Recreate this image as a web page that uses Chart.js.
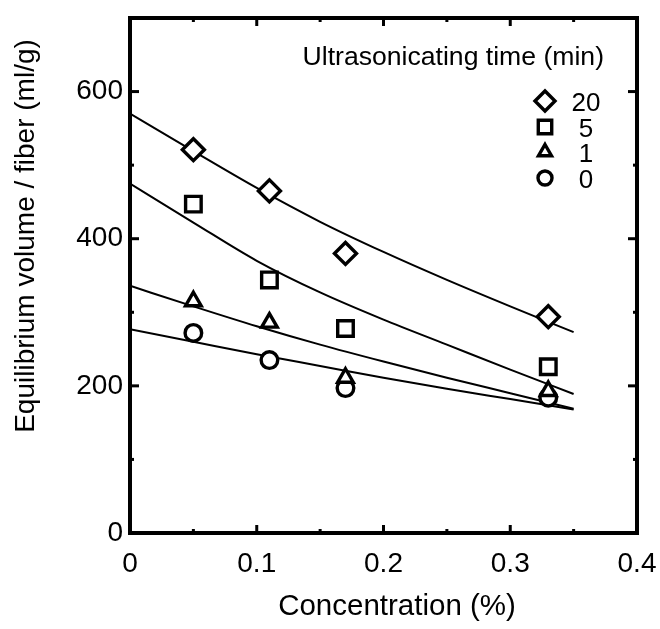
<!DOCTYPE html>
<html><head><meta charset="utf-8">
<script src="https://cdn.jsdelivr.net/npm/chart.js@4/dist/chart.umd.min.js"></script>
<style>html,body{margin:0;padding:0;background:#fff;} canvas{display:block;}</style>
</head><body>
<canvas id="c" width="660" height="629"></canvas>
<script>
const concentration = [0.05, 0.11, 0.17, 0.33];
const vol20min = [521, 465, 380, 294];
const vol5min = [447, 344, 278, 226];
const vol1min = [315, 286, 211, 193];
const vol0min = [272, 235, 197, 184];
const fitConcentration = [0, 0.05, 0.1, 0.15, 0.2, 0.25, 0.3, 0.35];
const fit20min = [570, 519, 469, 423, 382, 344, 308, 273];
const fit5min = [475, 422, 370, 327, 290, 256, 222, 189];
const fit1min = [336, 308, 281, 256, 233, 211, 190, 169];
const fit0min = [277, 260, 243, 227, 211, 196, 182, 168];
const seriesLabels = ['20', '5', '1', '0'];
const xTicks = [0, 0.1, 0.2, 0.3, 0.4];
const xTickLabels = ['0', '0.1', '0.2', '0.3', '0.4'];
const xMinorTicks = [0.05, 0.15, 0.25, 0.35];
const yTicks = [0, 200, 400, 600];
const yTickLabels = ['0', '200', '400', '600'];
const yMinorTicks = [100, 300, 500];
const xTitle = 'Concentration (%)';
const yTitle = 'Equilibrium volume / fiber (ml/g)';
const legendTitle = 'Ultrasonicating time (min)';

const FONT = '"Liberation Sans", Arial, Helvetica, sans-serif';
const markerStyles = ['rectRot', 'rect', 'triangle', 'circle'];
const markerRadii = [11, 11, 9, 8.3];
const legendRadii = [10, 9.5, 7.5, 7];

const measured = [vol20min, vol5min, vol1min, vol0min];
const fits = [fit20min, fit5min, fit1min, fit0min];

const datasets = [];
fits.forEach((f, i) => {
  datasets.push({
    label: 'fit ' + seriesLabels[i],
    data: fitConcentration.map((x, j) => ({x: x, y: f[j]})),
    showLine: true,
    borderColor: '#000',
    borderWidth: 2,
    pointRadius: 0,
    fill: false,
    cubicInterpolationMode: 'monotone',
    order: 1
  });
});
measured.forEach((m, i) => {
  datasets.push({
    label: seriesLabels[i],
    data: concentration.map((x, j) => ({x: x, y: m[j]})),
    showLine: false,
    pointStyle: markerStyles[i],
    pointRadius: markerRadii[i],
    pointBorderWidth: 3.4,
    pointBackgroundColor: '#fff',
    pointBorderColor: '#000',
    order: 0
  });
});

function drawMarker(ctx, style, r, x, y) {
  if (Chart.helpers && Chart.helpers.drawPoint) {
    Chart.helpers.drawPoint(ctx, {pointStyle: style, radius: r, rotation: 0, borderWidth: 3.4}, x, y);
    return;
  }
  ctx.beginPath();
  if (style === 'circle') ctx.arc(x, y, r, 0, Math.PI * 2);
  else if (style === 'rect') { const s = r * Math.SQRT1_2; ctx.rect(x - s, y - s, 2 * s, 2 * s); }
  else if (style === 'rectRot') { ctx.moveTo(x - r, y); ctx.lineTo(x, y - r); ctx.lineTo(x + r, y); ctx.lineTo(x, y + r); ctx.closePath(); }
  else { ctx.moveTo(x, y - r); ctx.lineTo(x + 0.866 * r, y + 0.5 * r); ctx.lineTo(x - 0.866 * r, y + 0.5 * r); ctx.closePath(); }
  ctx.fill(); ctx.stroke();
}

const decor = {
  id: 'decor',
  afterDatasetsDraw(chart) {
    const ctx = chart.ctx;
    const a = chart.chartArea;
    const xs = chart.scales.x, ys = chart.scales.y;
    ctx.save();
    ctx.strokeStyle = '#000';
    ctx.lineWidth = 3;
    ctx.lineCap = 'butt';
    const tick = (x1, y1, x2, y2) => { ctx.beginPath(); ctx.moveTo(x1, y1); ctx.lineTo(x2, y2); ctx.stroke(); };
    xTicks.forEach(v => { const p = xs.getPixelForValue(v); tick(p, a.bottom, p, a.bottom - 8); tick(p, a.top, p, a.top + 8); });
    xMinorTicks.forEach(v => { const p = xs.getPixelForValue(v); tick(p, a.bottom, p, a.bottom - 4); tick(p, a.top, p, a.top + 4); });
    yTicks.forEach(v => { const p = ys.getPixelForValue(v); tick(a.left, p, a.left + 9, p); tick(a.right, p, a.right - 9, p); });
    yMinorTicks.forEach(v => { const p = ys.getPixelForValue(v); tick(a.left, p, a.left + 4, p); tick(a.right, p, a.right - 4, p); });
    ctx.lineWidth = 4;
    ctx.lineJoin = 'miter';
    ctx.strokeRect(a.left, a.top, a.right - a.left, a.bottom - a.top);

    ctx.fillStyle = '#000';
    ctx.font = '29.5px ' + FONT;
    ctx.textAlign = 'center';
    ctx.textBaseline = 'alphabetic';
    ctx.fillText(xTitle, 397, 615);

    ctx.save();
    ctx.translate(34, 236);
    ctx.rotate(-Math.PI / 2);
    ctx.font = '28px ' + FONT;
    ctx.textAlign = 'center';
    ctx.fillText(yTitle, 0, 0);
    ctx.restore();

    ctx.font = '26.6px ' + FONT;
    ctx.textAlign = 'right';
    ctx.fillText(legendTitle, 604, 65);

    const rowY = [101, 127, 152, 178];
    seriesLabels.forEach((lab, i) => {
      ctx.fillStyle = '#fff';
      ctx.strokeStyle = '#000';
      ctx.lineWidth = 3.4;
      drawMarker(ctx, markerStyles[i], legendRadii[i], 545, rowY[i]);
      ctx.fillStyle = '#000';
      ctx.font = '26px ' + FONT;
      ctx.textAlign = 'center';
      ctx.fillText(lab, 586, rowY[i] + 9.5);
    });
    ctx.restore();
  }
};

function zeroPad(s) { s.paddingTop = 0; s.paddingBottom = 0; s.paddingLeft = 0; s.paddingRight = 0; }

new Chart(document.getElementById('c'), {
  type: 'scatter',
  data: {datasets: datasets},
  plugins: [decor],
  options: {
    responsive: false,
    devicePixelRatio: 1,
    animation: false,
    layout: {padding: {top: 18, right: 23, left: 0, bottom: 0}},
    plugins: {legend: {display: false}, tooltip: {enabled: false}},
    scales: {
      x: {
        type: 'linear', min: 0, max: 0.4,
        afterFit: s => { s.height = 96; zeroPad(s); },
        afterBuildTicks: s => { s.ticks = xTicks.map(v => ({value: v})); },
        grid: {display: false, drawTicks: false},
        border: {display: false},
        ticks: {
          padding: 14, color: '#000', font: {family: FONT, size: 28},
          maxRotation: 0, autoSkip: false,
          callback: (v) => { const i = xTicks.indexOf(v); return i >= 0 ? xTickLabels[i] : ''; }
        }
      },
      y: {
        type: 'linear', min: 0, max: 700,
        afterFit: s => { s.width = 130; zeroPad(s); },
        afterBuildTicks: s => { s.ticks = yTicks.map(v => ({value: v})); },
        grid: {display: false, drawTicks: false},
        border: {display: false},
        ticks: {
          padding: 7, color: '#000', font: {family: FONT, size: 28},
          autoSkip: false,
          callback: (v) => { const i = yTicks.indexOf(v); return i >= 0 ? yTickLabels[i] : ''; }
        }
      }
    }
  }
});
</script>
</body></html>
